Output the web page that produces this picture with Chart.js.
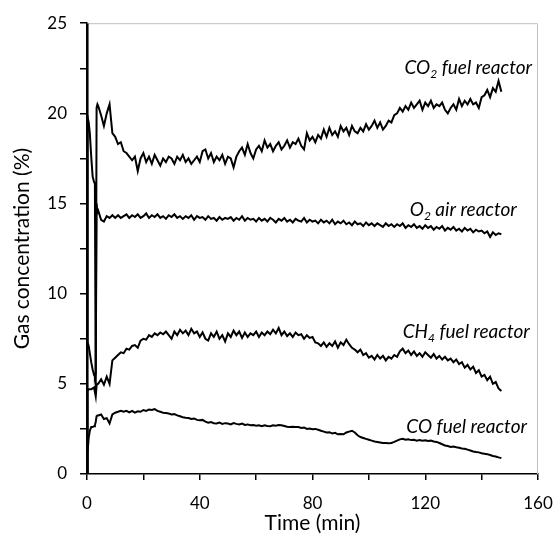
<!DOCTYPE html>
<html>
<head>
<meta charset="utf-8">
<script src="https://cdn.jsdelivr.net/npm/chart.js@4"></script>
<style>
html,body{margin:0;padding:0;background:#fff;}
#wrap{width:556px;height:536px;}
</style>
</head>
<body>
<div id="wrap"><canvas id="c" width="556" height="536"></canvas></div>
<script>
// ---- data (time in min, concentrations in %) ----
const time = [0,0.1,0.3,0.6,1,1.5,2,2.5,2.8,3.1,3.4,3.7,
4,5,6,7,8,9,10,
11,12,13,14,15,16,17,18,19,20,
21,22,23,24,25,26,27,28,29,30,
31,32,33,34,35,36,37,38,39,40,
41,42,43,44,45,46,47,48,49,50,
51,52,53,54,55,56,57,58,59,60,
61,62,63,64,65,66,67,68,69,70,
71,72,73,74,75,76,77,78,79,80,
81,82,83,84,85,86,87,88,89,90,
91,92,93,94,95,96,97,98,99,100,
101,102,103,104,105,106,107,108,109,110,
111,112,113,114,115,116,117,118,119,120,
121,122,123,124,125,126,127,128,129,130,
131,132,133,134,135,136,137,138,139,140,
141,142,143,144,145,146,147];

const co2Fuel = [0,19.9,19.8,19.5,18.9,17.6,16.5,16.2,16.1,4.5,20.3,20.5,
20.4,19.9,19.3,20.0,20.5,18.9,18.7,
18.3,18.4,17.9,17.8,17.6,17.4,17.6,16.8,17.5,17.8,
17.3,17.6,17.2,17.7,17.4,17.1,17.5,17.3,17.6,17.5,
17.2,17.6,17.4,17.7,17.3,17.5,17.2,17.4,17.6,17.3,
17.9,18.0,17.5,17.8,17.3,17.6,17.4,17.7,17.2,17.6,
17.5,17.0,17.6,17.9,18.1,17.7,18.3,17.8,17.5,18.0,
18.2,17.9,18.5,18.1,18.3,17.9,18.2,18.4,18.0,18.2,
18.5,18.1,18.4,18.3,18.6,18.2,18.0,18.9,18.5,18.7,
18.4,18.8,18.6,19.1,18.7,19.2,18.8,19.0,18.7,19.3,
19.0,19.2,18.8,19.3,19.0,18.9,19.2,19.0,19.4,19.1,
19.3,19.6,19.2,19.5,19.1,19.3,19.6,19.5,19.9,20.0,
20.3,20.1,20.4,20.2,20.6,20.3,20.5,20.7,20.2,20.6,
20.4,20.7,20.3,20.5,20.4,20.6,20.2,20.0,20.3,20.5,
20.2,20.8,20.4,20.7,20.5,20.8,20.5,20.6,20.3,20.9,
21.0,21.3,20.9,21.4,21.2,21.8,21.2];

const o2Air = [25,9.0,7.3,7.1,6.7,6.2,5.8,5.5,5.4,5.6,15.0,14.5,
14.6,14.1,14.0,14.3,14.2,14.35,14.2,
14.35,14.2,14.3,14.4,14.2,14.35,14.25,14.4,14.2,14.3,
14.45,14.2,14.35,14.25,14.4,14.2,14.3,14.15,14.35,14.25,
14.4,14.2,14.3,14.15,14.3,14.2,14.35,14.1,14.3,14.2,
14.25,14.1,14.3,14.15,14.2,14.05,14.25,14.1,14.2,14.15,
14.25,14.05,14.2,14.1,14.3,14.05,14.2,14.1,14.15,14.0,
14.2,14.05,14.15,14.0,14.2,14.1,13.95,14.15,14.05,14.2,
14.0,14.1,13.95,14.15,14.05,14.0,14.2,13.95,14.1,14.0,
14.05,13.9,14.1,13.95,14.05,13.9,14.1,13.85,14.0,13.9,
14.05,13.85,13.95,13.8,14.0,13.85,13.9,13.75,13.95,13.8,
13.9,13.75,13.9,13.8,13.7,13.9,13.75,13.85,13.7,13.85,
13.75,13.9,13.65,13.8,13.7,13.85,13.65,13.75,13.6,13.8,
13.65,13.75,13.55,13.7,13.6,13.75,13.5,13.65,13.55,13.7,
13.5,13.6,13.45,13.65,13.5,13.6,13.4,13.55,13.45,13.5,
13.35,13.45,13.15,13.4,13.25,13.35,13.3];

const ch4Fuel = [0,3.5,4.6,4.7,4.7,4.7,4.75,4.8,4.8,4.3,4.9,5.0,
5.0,5.25,4.95,5.4,5.0,6.3,6.45,
6.6,6.75,6.7,6.95,6.9,7.1,7.15,7.0,7.4,7.5,
7.45,7.7,7.6,7.8,7.7,7.85,7.75,7.9,7.7,7.5,
7.9,7.7,8.0,7.8,7.95,7.7,8.05,7.8,7.9,7.6,
7.85,7.5,7.4,7.8,7.6,7.9,7.5,7.7,7.35,7.8,
7.6,7.95,7.7,7.9,7.55,7.85,7.6,7.8,7.7,7.9,
7.6,7.85,7.7,7.9,7.75,8.0,7.8,8.1,7.7,7.9,
7.65,7.8,7.6,7.85,7.7,7.75,7.5,7.7,7.55,7.6,
7.3,7.25,7.1,7.3,7.05,7.25,7.1,7.35,7.0,7.3,
7.15,7.45,7.2,7.0,6.9,6.75,6.9,6.6,6.7,6.45,
6.55,6.35,6.6,6.4,6.55,6.3,6.5,6.4,6.6,6.5,
6.8,6.95,6.7,6.85,6.6,6.8,6.55,6.7,6.5,6.75,
6.6,6.45,6.65,6.4,6.55,6.35,6.5,6.3,6.4,6.2,
6.35,6.1,6.2,5.9,6.05,5.8,5.95,5.6,5.75,5.4,
5.5,5.2,5.4,5.0,5.1,4.75,4.6];

const coFuel = [0,0.3,1.2,2.0,2.4,2.6,2.6,2.65,2.7,2.9,3.2,3.25,
3.25,3.3,3.05,3.1,2.8,3.3,3.4,
3.45,3.5,3.45,3.5,3.42,3.5,3.4,3.48,3.45,3.55,
3.5,3.58,3.55,3.6,3.5,3.45,3.4,3.38,3.35,3.3,
3.32,3.25,3.2,3.15,3.12,3.1,3.05,3.08,3.0,2.98,
3.0,2.9,2.85,2.88,2.82,2.8,2.85,2.78,2.82,2.8,
2.75,2.82,2.78,2.75,2.8,2.72,2.75,2.7,2.72,2.68,
2.7,2.65,2.7,2.66,2.65,2.7,2.68,2.72,2.7,2.66,
2.62,2.6,2.62,2.6,2.6,2.55,2.58,2.5,2.52,2.48,
2.5,2.45,2.4,2.35,2.3,2.32,2.25,2.28,2.2,2.22,
2.2,2.3,2.35,2.4,2.3,2.15,2.05,2.0,1.95,1.9,
1.85,1.8,1.78,1.75,1.72,1.72,1.7,1.72,1.78,1.85,
1.92,1.95,1.9,1.92,1.88,1.9,1.85,1.88,1.85,1.87,
1.83,1.85,1.8,1.78,1.72,1.65,1.58,1.55,1.5,1.52,
1.48,1.45,1.42,1.4,1.35,1.3,1.25,1.22,1.2,1.15,
1.12,1.1,1.05,1.0,0.97,0.92,0.88];

const seriesNames = ['CO2 fuel reactor','O2 air reactor','CH4 fuel reactor','CO fuel reactor'];
const xTitle = 'Time (min)';
const yTitle = 'Gas concentration (%)';

// ---- build chart ----
const toPts = vals => vals.map((v, i) => ({x: time[i], y: v}));
const FONT = 'Lato, "Open Sans", sans-serif';

const mkDs = (label, vals) => ({
  label, data: toPts(vals),
  borderColor: '#000', borderWidth: 2, pointRadius: 0,
  fill: false, tension: 0
});

// label annotations: segments with subscript, anchored right at (x,y) in data units
const curveLabels = [
  {segs: [['CO'],['2',1],[' fuel reactor']], x: 157.9, y: 22.2},
  {segs: [['O'],['2',1],[' air reactor']], x: 152.5, y: 14.33},
  {segs: [['CH'],['4',1],[' fuel reactor']], x: 157.1, y: 7.56},
  {segs: [['CO fuel reactor']], x: 156.1, y: 2.28}
];

const framePlugin = {
  id: 'frame',
  beforeDatasetsDraw(chart) {
    const {ctx, chartArea: a} = chart;
    ctx.save();
    ctx.strokeStyle = '#bfbfbf';
    ctx.lineWidth = 1;
    ctx.beginPath();
    ctx.moveTo(a.left, a.top + 0.5);
    ctx.lineTo(a.right - 0.5, a.top + 0.5);
    ctx.lineTo(a.right - 0.5, a.bottom);
    ctx.stroke();
    ctx.restore();
  },
  afterDatasetsDraw(chart) {
    const {ctx, scales: {x, y}} = chart;
    ctx.save();
    ctx.fillStyle = '#000';
    ctx.textBaseline = 'alphabetic';
    const fs = 19;
    curveLabels.forEach(l => {
      let w = 0;
      l.segs.forEach(s => {
        ctx.font = 'italic ' + (s[1] ? Math.round(fs * 0.65) : fs) + 'px ' + FONT;
        w += ctx.measureText(s[0]).width;
      });
      let px = x.getPixelForValue(l.x) - w;
      const py = y.getPixelForValue(l.y);
      l.segs.forEach(s => {
        ctx.font = 'italic ' + (s[1] ? Math.round(fs * 0.65) : fs) + 'px ' + FONT;
        ctx.fillText(s[0], px, s[1] ? py + 4 : py);
        px += ctx.measureText(s[0]).width;
      });
    });
    ctx.restore();
  }
};

new Chart(document.getElementById('c'), {
  type: 'line',
  data: {
    datasets: [
      mkDs(seriesNames[0], co2Fuel),
      mkDs(seriesNames[1], o2Air),
      mkDs(seriesNames[2], ch4Fuel),
      mkDs(seriesNames[3], coFuel)
    ]
  },
  options: {
    responsive: false,
    animation: false,
    devicePixelRatio: 1,
    layout: {padding: {top: 23, right: 18, left: 0, bottom: 0}},
    plugins: {legend: {display: false}, tooltip: {enabled: false}},
    scales: {
      x: {
        type: 'linear', min: 0, max: 160,
        afterFit: s => { s.height = 62; s.paddingRight = 0; s.paddingLeft = 0; },
        border: {display: true, color: '#000', width: 1.5},
        grid: {display: true, drawOnChartArea: false, drawTicks: true, tickLength: 6, color: '#000', lineWidth: 1.5},
        ticks: {
          stepSize: 20, color: '#000', padding: 13, maxRotation: 0, autoSkip: false,
          font: {family: FONT, size: 17},
          callback: v => (v % 40 === 0 ? String(v) : '')
        },
        title: {display: true, text: xTitle, color: '#000', font: {family: FONT, size: 21}, padding: {top: 0, bottom: 0}}
      },
      y: {
        min: 0, max: 25,
        afterFit: s => { s.width = 87; },
        border: {display: true, color: '#000', width: 1.5},
        grid: {display: true, drawOnChartArea: false, drawTicks: true, tickLength: 7, color: '#000', lineWidth: 1.5},
        ticks: {
          stepSize: 2.5, color: '#000', padding: 13, autoSkip: false,
          font: {family: FONT, size: 17},
          callback: v => (v % 5 === 0 ? String(v) : '')
        },
        title: {display: true, text: yTitle, color: '#000', font: {family: FONT, size: 21}, padding: {top: 10, bottom: 0}}
      }
    }
  },
  plugins: [framePlugin]
});
</script>
</body>
</html>
